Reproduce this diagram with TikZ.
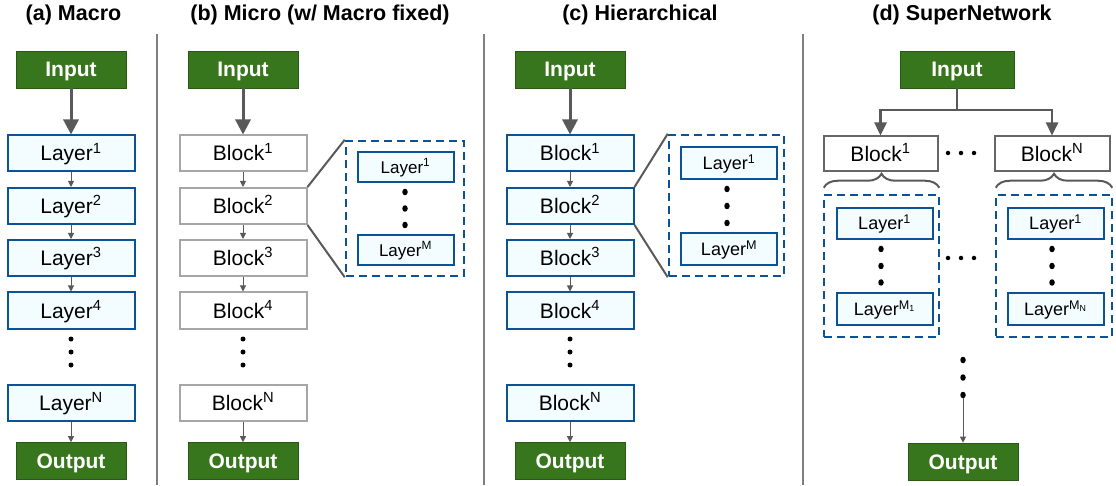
\documentclass[tikz,border=0pt]{standalone}
\usepackage{fontspec}
\setmainfont{Liberation Sans}
\usetikzlibrary{arrows.meta,decorations.pathreplacing,calc,shapes.geometric}
\definecolor{grn}{HTML}{38761D}
\definecolor{blu}{HTML}{0B5394}
\definecolor{lfill}{HTML}{F3FDFF}
\definecolor{dgray}{HTML}{595959}
\definecolor{lgray}{HTML}{A6A6A6}
\definecolor{mgray}{HTML}{666666}
\definecolor{sepgray}{HTML}{808080}
\newcommand\spx[1]{\textsuperscript{#1}}
\begin{document}
\begin{tikzpicture}[x=1pt,y=-1pt,
  io/.style={fill=grn, draw=grn!75!black, line width=0.6pt, text=white,
    font=\fontsize{21}{21}\selectfont\bfseries, minimum width=110pt, minimum height=37pt, inner sep=0pt,
    text height=15pt, text depth=0pt},
  layerbox/.style={draw=blu, fill=lfill, line width=2pt, minimum width=127pt, minimum height=36pt,
    inner sep=0pt, font=\fontsize{21}{21}\selectfont, text height=15pt, text depth=0pt},
  blockbox/.style={draw=lgray, fill=white, line width=2pt, minimum width=127pt, minimum height=36pt,
    inner sep=0pt, font=\fontsize{21}{21}\selectfont, text height=15pt, text depth=0pt},
  sblock/.style={draw=mgray, fill=white, line width=2pt, minimum width=114pt, minimum height=35pt,
    inner sep=0pt, font=\fontsize{21}{21}\selectfont, text height=15pt, text depth=0pt},
  smalllayer/.style={draw=blu, fill=lfill, line width=2pt, minimum width=96pt, minimum height=30pt,
    inner sep=0pt, font=\fontsize{17}{17}\selectfont, text height=12.2pt, text depth=0pt},
  biglayer/.style={smalllayer, font=\fontsize{18}{18}\selectfont, text height=12.9pt},
  dashbox/.style={draw=blu, line width=2.5pt, dash pattern=on 8pt off 5pt, inner sep=0pt},
  bigarrow/.style={draw=dgray, line width=3pt, -{Triangle[length=15pt,width=15pt]}},
  midarrow/.style={draw=dgray, line width=2.5pt, -{Triangle[length=13pt,width=12pt]}},
  thinarrow/.style={draw=dgray, line width=1pt, -{Triangle[length=6pt,width=6pt]}},
  zoomline/.style={draw=dgray, line width=2pt},
  sepline/.style={draw=sepgray, line width=1.5pt},
  dotc/.style={circle, fill=black, inner sep=0pt, minimum size=5pt},
  bigdot/.style={ellipse, fill=black, inner sep=0pt, minimum width=5.5pt, minimum height=6.5pt},
  brc/.style={draw=dgray, line width=2pt, decorate, decoration={brace, amplitude=14pt}},
  title/.style={anchor=base, font=\fontsize{21.5}{22}\selectfont\bfseries},
]
\useasboundingbox (0,0) rectangle (1116,486);

% separators
\draw[sepline] (157,34) -- (157,485);
\draw[sepline] (484,34) -- (484,485);
\draw[sepline] (803,34) -- (803,485);

% titles
\node[title] (ta) at (73.5,20.5) {(a) Macro};
\node[title] (tb) at (320,20.5) {(b) Micro (w/ Macro fixed)};
\node[title] (tc) at (640,20.5) {(c) Hierarchical};
\node[title] (td) at (962,20.5) {(d) SuperNetwork};

% ---------------- (a) ----------------
\node[io] (ina) at (71,69.5) {Input};
\node[layerbox] (a1) at (71,153.5) {Layer\spx{1}};
\node[layerbox] (a2) at (71,206) {Layer\spx{2}};
\node[layerbox] (a3) at (71,258) {Layer\spx{3}};
\node[layerbox] (a4) at (71,310.5) {Layer\spx{4}};
\node[dotc] (ad1) at (71,339) {};
\node[dotc] (ad2) at (71,352) {};
\node[dotc] (ad3) at (71,365) {};
\node[layerbox] (aN) at (71,402.5) {Layer\spx{N}};
\node[io] (outa) at (71,461) {Output};
\draw[bigarrow] (ina) -- (a1);
\draw[thinarrow] (a1) -- (a2);
\draw[thinarrow] (a2) -- (a3);
\draw[thinarrow] (a3) -- (a4);
\draw[thinarrow] (aN) -- (outa);

% ---------------- (b) ----------------
\node[io] (inb) at (243,69.5) {Input};
\node[blockbox] (b1) at (243,153.5) {Block\spx{1}};
\node[blockbox] (b2) at (243,206) {Block\spx{2}};
\node[blockbox] (b3) at (243,258) {Block\spx{3}};
\node[blockbox] (b4) at (243,310.5) {Block\spx{4}};
\node[dotc] (bd1) at (243,339) {};
\node[dotc] (bd2) at (243,352) {};
\node[dotc] (bd3) at (243,365) {};
\node[blockbox] (bN) at (243,402.5) {Block\spx{N}};
\node[io] (outb) at (243,461) {Output};
\draw[bigarrow] (inb) -- (b1);
\draw[thinarrow] (b1) -- (b2);
\draw[thinarrow] (b2) -- (b3);
\draw[thinarrow] (b3) -- (b4);
\draw[thinarrow] (bN) -- (outb);
% inset
\node[dashbox, minimum width=118pt, minimum height=135pt] (db) at (405,208.5) {};
\node[smalllayer] (bl1) at (405.5,167) {Layer\spx{1}};
\node[bigdot] (bid1) at (405,192) {};
\node[bigdot] (bid2) at (405,208.5) {};
\node[bigdot] (bid3) at (405,225) {};
\node[smalllayer] (blM) at (405.5,250) {Layer\spx{M}};
\draw[zoomline] (b2.north east) -- (db.north west);
\draw[zoomline] (b2.south east) -- (db.south west);

% ---------------- (c) ----------------
\node[io] (inc) at (570,69.5) {Input};
\node[layerbox] (c1) at (570,153.5) {Block\spx{1}};
\node[layerbox] (c2) at (570,206) {Block\spx{2}};
\node[layerbox] (c3) at (570,258) {Block\spx{3}};
\node[layerbox] (c4) at (570,310.5) {Block\spx{4}};
\node[dotc] (cd1) at (570,339) {};
\node[dotc] (cd2) at (570,352) {};
\node[dotc] (cd3) at (570,365) {};
\node[layerbox] (cN) at (570,402.5) {Block\spx{N}};
\node[io] (outc) at (570,461) {Output};
\draw[bigarrow] (inc) -- (c1);
\draw[thinarrow] (c1) -- (c2);
\draw[thinarrow] (c2) -- (c3);
\draw[thinarrow] (c3) -- (c4);
\draw[thinarrow] (cN) -- (outc);
% inset
\node[dashbox, minimum width=115pt, minimum height=141pt] (dc) at (726.5,205.5) {};
\node[biglayer, minimum height=32pt] (cl1) at (729,163) {Layer\spx{1}};
\node[bigdot] (cid1) at (727,189) {};
\node[bigdot] (cid2) at (727,206) {};
\node[bigdot] (cid3) at (727,223) {};
\node[biglayer, minimum height=32pt] (clM) at (729,249) {Layer\spx{M}};
\draw[zoomline] (c2.north east) -- (dc.north west);
\draw[zoomline] (c2.south east) -- (dc.south west);

% ---------------- (d) ----------------
\node[io, minimum width=114pt] (ind) at (957,69.5) {Input};
\node[sblock] (d1) at (880.5,154) {Block\spx{1}};
\node[sblock, minimum width=115pt] (dN) at (1052,154) {Block\spx{N}};
\coordinate (split) at (957,110);
\draw[draw=dgray, line width=2.5pt] (ind.south) -- (split);
\draw[midarrow] (split) -| (d1.north);
\draw[midarrow] (split) -| (dN.north);
\node[dotc, minimum size=4.5pt] (hd1) at (948,153) {};
\node[dotc, minimum size=4.5pt] (hd2) at (961,153) {};
\node[dotc, minimum size=4.5pt] (hd3) at (974,153) {};
% insets
\node[dashbox, minimum width=115pt, minimum height=142pt] (dd1) at (881.5,266) {};
\node[dashbox, minimum width=116pt, minimum height=142pt] (ddN) at (1054,266) {};
\draw[brc] ($(dd1.north west)+(1,-6)$) -- ($(dd1.north east)+(-1,-6)$);
\draw[brc] ($(ddN.north west)+(1,-6)$) -- ($(ddN.north east)+(-1,-6)$);
\node[biglayer, minimum height=31pt] (dl1) at (884.5,223.5) {Layer\spx{1}};
\node[bigdot] (d1d1) at (881,249) {};
\node[bigdot] (d1d2) at (881,266) {};
\node[bigdot] (d1d3) at (881,282.5) {};
\node[biglayer, minimum height=31pt] (dlM) at (884.5,309) {Layer\spx{M\textsubscript{1}}};
\node[biglayer, minimum height=31pt] (dNl1) at (1055.5,223.5) {Layer\spx{1}};
\node[bigdot] (dNd1) at (1052,249) {};
\node[bigdot] (dNd2) at (1052,266) {};
\node[bigdot] (dNd3) at (1052,282.5) {};
\node[biglayer, minimum height=31pt] (dNlM) at (1055.5,309) {Layer\spx{M\textsubscript{N}}};
\node[dotc, minimum size=4.5pt] (hm1) at (948,258) {};
\node[dotc, minimum size=4.5pt] (hm2) at (961,258) {};
\node[dotc, minimum size=4.5pt] (hm3) at (974,258) {};
% bottom
\node[bigdot] (vd1) at (963,360) {};
\node[bigdot] (vd2) at (963,377.5) {};
\node[bigdot] (vd3) at (963,395) {};
\node[io] (outd) at (963,461.5) {Output};
\draw[thinarrow] (vd3) -- (outd);
\end{tikzpicture}
\end{document}
